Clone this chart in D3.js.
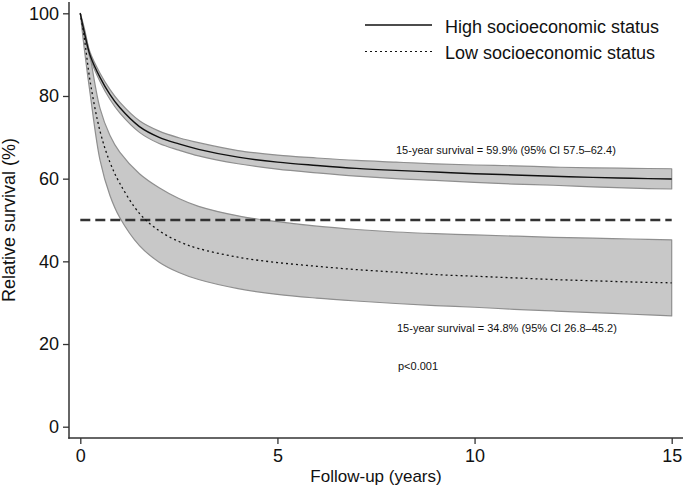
<!DOCTYPE html>
<html>
<head>
<meta charset="utf-8">
<script src="https://cdn.jsdelivr.net/npm/d3@7"></script>
<style>
  html, body { margin: 0; padding: 0; background: #fff; }
  svg { display: block; font-family: "Liberation Sans", Arial, sans-serif; }
</style>
</head>
<body>
<svg id="chart" width="685" height="486"></svg>
<script>
// ---- data ----
const years = [0, 0.1, 0.25, 0.5, 0.75, 1, 1.5, 2, 2.5, 3, 4, 5, 6, 7, 8, 9, 10, 11, 12, 13, 14, 15];

const highMean  = [100, 95.5, 89.8, 84.5, 80.4, 77.2, 72.6, 70.0, 68.4, 67.1, 65.2, 64.0, 63.2, 62.5, 62.0, 61.6, 61.2, 60.9, 60.6, 60.3, 60.1, 59.9];
const highUpper = [100, 95.9, 90.5, 85.5, 81.6, 78.5, 74.0, 71.5, 69.9, 68.7, 66.8, 65.7, 65.0, 64.4, 64.0, 63.6, 63.3, 63.1, 62.8, 62.6, 62.5, 62.4];
const highLower = [100, 95.1, 89.1, 83.5, 79.2, 75.9, 71.2, 68.5, 66.9, 65.5, 63.6, 62.3, 61.4, 60.6, 60.0, 59.6, 59.1, 58.7, 58.4, 58.0, 57.7, 57.5];

const lowMean  = [100, 94.2, 83.5, 71.5, 64.0, 58.9, 51.6, 47.4, 44.8, 43.1, 41.0, 39.7, 38.8, 38.0, 37.4, 36.8, 36.4, 36.0, 35.6, 35.3, 35.0, 34.8];
const lowUpper = [100, 96.5, 89.5, 77.0, 70.5, 66.4, 61.2, 57.8, 55.2, 53.3, 51.0, 49.6, 48.5, 47.7, 47.1, 46.7, 46.4, 46.1, 45.8, 45.6, 45.4, 45.2];
const lowLower = [100, 91.5, 80.5, 64.5, 56.0, 50.6, 43.8, 39.8, 37.3, 35.6, 33.4, 32.0, 31.1, 30.4, 29.8, 29.3, 28.9, 28.4, 28.0, 27.6, 27.2, 26.8];

const referenceLevel = 50;
const xTicks = [0, 5, 10, 15];
const yTicks = [0, 20, 40, 60, 80, 100];
const legendLabels = ["High socioeconomic status", "Low socioeconomic status"];
const annotations = [
  "15-year survival = 59.9% (95% CI 57.5\u201362.4)",
  "15-year survival = 34.8% (95% CI 26.8\u201345.2)",
  "p<0.001"
];
const xTitle = "Follow-up (years)";
const yTitle = "Relative survival (%)";

// ---- drawing ----
const svg = d3.select("#chart");
const x = d3.scaleLinear().domain([0, 15]).range([80.3, 671.7]);
const y = d3.scaleLinear().domain([0, 100]).range([426.7, 13.3]);

const axisColor = "#333";
const bandFill = "#c8c8c8";
const bandStroke = "#8f8f8f";

function rows(m, lo, hi) {
  return years.map((t, i) => ({ t, m: m[i], lo: lo[i], hi: hi[i] }));
}
const high = rows(highMean, highLower, highUpper);
const low = rows(lowMean, lowLower, lowUpper);

const curve = d3.curveCatmullRom.alpha(0.5);
const area = d3.area().curve(curve).x(d => x(d.t)).y0(d => y(d.lo)).y1(d => y(d.hi));
const line = d3.line().curve(curve).x(d => x(d.t)).y(d => y(d.m));

// bands
[low, high].forEach(s => {
  svg.append("path").datum(s).attr("d", area)
    .attr("fill", bandFill).attr("stroke", bandStroke).attr("stroke-width", 1.2)
    .attr("stroke-linejoin", "round");
});

// reference line
svg.append("line")
  .attr("x1", x(0)).attr("x2", x(15))
  .attr("y1", y(referenceLevel)).attr("y2", y(referenceLevel))
  .attr("stroke", "#333").attr("stroke-width", 2.4)
  .attr("stroke-dasharray", "10,5");

// mean lines
svg.append("path").datum(low).attr("d", line)
  .attr("fill", "none").attr("stroke", "#111").attr("stroke-width", 1.3)
  .attr("stroke-dasharray", "2,3");
svg.append("path").datum(high).attr("d", line)
  .attr("fill", "none").attr("stroke", "#111").attr("stroke-width", 1.4);

// axes
const axisX = 69, axisY = 438;
const yAxis = d3.axisLeft(y).tickValues(yTicks).tickSize(6).tickPadding(4);
const gy = svg.append("g").attr("transform", `translate(${axisX},0)`).call(yAxis);
gy.select(".domain").remove();
gy.selectAll(".tick line").attr("stroke", axisColor).attr("stroke-width", 1.3);
gy.selectAll(".tick text").attr("font-size", 18).attr("fill", "#111")
  .attr("font-family", "Liberation Sans, Arial, sans-serif");

const xAxis = d3.axisBottom(x).tickValues(xTicks).tickSize(6).tickPadding(5);
const gx = svg.append("g").attr("transform", `translate(0,${axisY})`).call(xAxis);
gx.select(".domain").remove();
gx.selectAll(".tick line").attr("stroke", axisColor).attr("stroke-width", 1.3);
gx.selectAll(".tick text").attr("font-size", 18).attr("fill", "#111")
  .attr("font-family", "Liberation Sans, Arial, sans-serif");

svg.append("line").attr("x1", axisX).attr("x2", axisX).attr("y1", 2).attr("y2", axisY + 0.75)
  .attr("stroke", axisColor).attr("stroke-width", 1.5);
svg.append("line").attr("x1", axisX - 0.75).attr("x2", 683).attr("y1", axisY).attr("y2", axisY)
  .attr("stroke", axisColor).attr("stroke-width", 1.5);

// axis titles
svg.append("text").attr("x", (x(0) + x(15)) / 2).attr("y", 481.5)
  .attr("text-anchor", "middle").attr("font-size", 17).attr("fill", "#111").text(xTitle);
svg.append("text").attr("transform", `translate(15,${(y(0) + y(100)) / 2}) rotate(-90)`)
  .attr("text-anchor", "middle").attr("font-size", 18).attr("fill", "#111").text(yTitle);

// legend
const legend = svg.append("g");
legendLabels.forEach((lab, i) => {
  const ly = 25 + i * 26.5;
  legend.append("line").attr("x1", 365).attr("x2", 432).attr("y1", ly).attr("y2", ly)
    .attr("stroke", "#111").attr("stroke-width", i === 0 ? 1.4 : 1.2)
    .attr("stroke-dasharray", i === 0 ? null : "2,3");
  legend.append("text").attr("x", 445).attr("y", ly + 7.5)
    .attr("font-size", 18).attr("fill", "#111").text(lab);
});

// annotations
const annPos = [[396, 154], [397, 332], [398, 369.5]];
annotations.forEach((a, i) => {
  svg.append("text").attr("x", annPos[i][0]).attr("y", annPos[i][1])
    .attr("font-size", 11).attr("fill", "#111").text(a);
});
</script>
</body>
</html>
